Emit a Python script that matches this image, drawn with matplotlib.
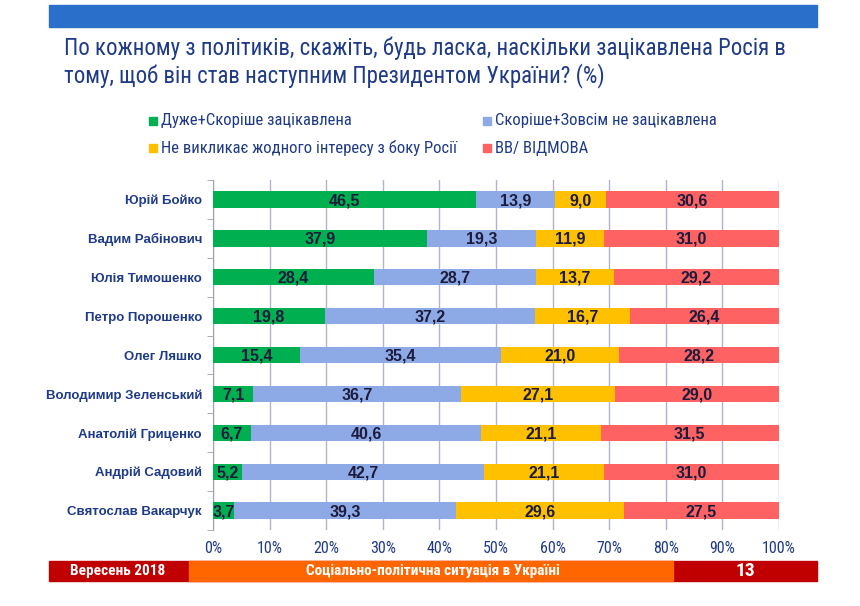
import matplotlib
matplotlib.use("Agg")
import matplotlib.pyplot as plt
import numpy as np
from matplotlib.patches import Rectangle
from matplotlib import font_manager

plt.rcParams['font.family'] = ['Liberation Sans', 'DejaVu Sans']
avail = {f.name for f in font_manager.fontManager.ttflist}
narrow_ok = 'Roboto Condensed' in avail
NARROW = ['Roboto Condensed', 'Liberation Sans', 'DejaVu Sans'] if narrow_ok else ['Liberation Sans', 'DejaVu Sans']

names = ["Юрій Бойко", "Вадим Рабінович", "Юлія Тимошенко", "Петро Порошенко",
         "Олег Ляшко", "Володимир Зеленський", "Анатолій Гриценко",
         "Андрій Садовий", "Святослав Вакарчук"]
interested = [46.5, 37.9, 28.4, 19.8, 15.4, 7.1, 6.7, 5.2, 3.7]
not_interested = [13.9, 19.3, 28.7, 37.2, 35.4, 36.7, 40.6, 42.7, 39.3]
no_interest = [9.0, 11.9, 13.7, 16.7, 21.0, 27.1, 21.1, 21.1, 29.6]
dk = [30.6, 31.0, 29.2, 26.4, 28.2, 29.0, 31.5, 31.0, 27.5]
series_labels = ["Дуже+Скоріше зацікавлена", "Скоріше+Зовсім не зацікавлена",
                 "Не викликає жодного інтересу з боку Росії", "ВВ/ ВІДМОВА"]
colors = ["#00b050", "#8eaae6", "#ffc000", "#ff6262"]
xticklabels = ["0%", "10%", "20%", "30%", "40%", "50%", "60%", "70%", "80%", "90%", "100%"]

title = "По кожному з політиків, скажіть, будь ласка, наскільки зацікавлена Росія в\nтому, щоб він став наступним Президентом України? (%)"
footer_left = "Вересень 2018"
footer_mid = "Соціально-політична ситуація в Україні"
footer_right = "13"

navy = "#1f3b87"

fig = plt.figure(figsize=(8.6, 6.06), dpi=100)
W, H = 860, 606

def fx(px): return px / W
def fy(py): return 1 - py / H

# top banner
fig.patches.append(Rectangle((fx(49), fy(27)), fx(817) - fx(49), (27 - 5) / H,
                             transform=fig.transFigure, color="#2a6fc9", zorder=0))
fig.text(fx(64), fy(37), title, ha="left", va="top",
         fontsize=16.5 if narrow_ok else 13, color=navy,
         linespacing=1.12, family=NARROW)

# legend
leg_pos = [(153, 121), (487, 121), (153, 148), (487, 148)]
for (x, y), lab, c in zip(leg_pos, series_labels, colors):
    fig.patches.append(Rectangle((fx(x - 4), fy(y + 4)), 8 / W, 8 / H,
                                 transform=fig.transFigure, color=c))
    fig.text(fx(x + 8), fy(y), lab, ha="left", va="center",
             fontsize=12 if narrow_ok else 10.5, color=navy, family=NARROW)

ax = fig.add_axes([fx(213), fy(530), fx(779) - fx(213), (530 - 180) / H])

data = np.array([interested, not_interested, no_interest, dk])
totals = data.sum(axis=0)
frac = data / totals
y = np.arange(len(names))
left = np.zeros(len(names))
for i in range(4):
    ax.barh(y, frac[i], left=left, height=0.42, color=colors[i], zorder=3)
    for j in range(len(names)):
        xc = left[j] + frac[i][j] / 2
        ax.text(xc, y[j] + 0.03, f"{data[i][j]:.1f}".replace(".", ","), ha="center",
                va="center", fontsize=11.5, fontweight="bold", color="#1c1c3c", zorder=4)
    left += frac[i]

ax.set_ylim(len(names) - 0.5, -0.5)
ax.set_xlim(0, 1)
ax.set_yticks(y)
ax.set_yticklabels(names, fontsize=9.5, fontweight="bold", color=navy)
ax.set_yticks(np.arange(-0.5, len(names), 1), minor=True)
ax.tick_params(axis="y", which="major", length=0, pad=8)
ax.tick_params(axis="y", which="minor", length=4, color="#a0a0b0")
ax.set_xticks(np.linspace(0, 1, 11))
ax.set_xticklabels(xticklabels, fontsize=11.5 if narrow_ok else 10, color=navy, family=NARROW)
ax.tick_params(axis="x", length=0, pad=8)
ax.grid(axis="x", color="#b0b4cc", linewidth=1, zorder=0)
for s in ["top", "right", "bottom"]:
    ax.spines[s].set_visible(False)
ax.spines["left"].set_color("#a0a0b0")

# footer
fig.patches.append(Rectangle((fx(49), fy(581)), fx(817) - fx(49), 20 / H,
                             transform=fig.transFigure, color="#c00000", zorder=0))
fig.patches.append(Rectangle((fx(189), fy(581)), fx(673) - fx(189), 20 / H,
                             transform=fig.transFigure, color="#ff6600", zorder=0))
fig.text(fx(118), fy(571.5), footer_left, ha="center", va="center", fontsize=11 if narrow_ok else 9,
         fontweight="bold", color="white", family=NARROW)
fig.text(fx(433), fy(571.5), footer_mid, ha="center", va="center", fontsize=11 if narrow_ok else 9,
         fontweight="bold", color="white", family=NARROW)
fig.text(fx(745), fy(571.5), footer_right, ha="center", va="center", fontsize=14,
         fontweight="bold", color="white", family=NARROW)

fig.savefig("out.png", dpi=100)
